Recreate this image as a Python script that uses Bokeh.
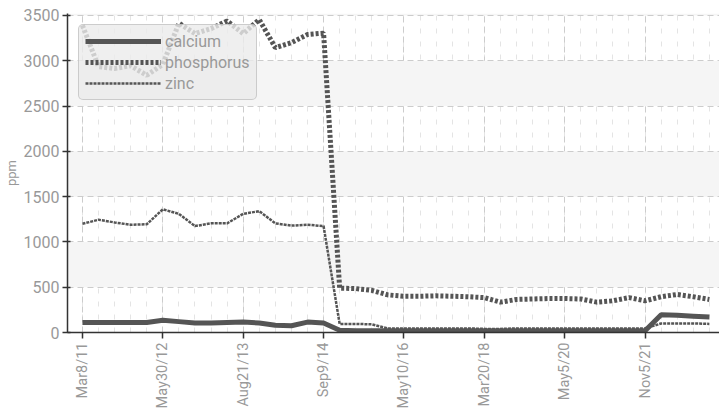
import math
from bokeh.plotting import figure
from bokeh.models import Range1d, FixedTicker, Legend, LegendItem, ColumnDataSource
from bokeh.embed import file_html
from bokeh.resources import INLINE

dates = ["Mar8/11", "", "", "", "", "May30/12", "", "", "", "", "Aug21/13", "", "", "", "",
         "Sep9/14", "", "", "", "", "May10/16", "", "", "", "", "Mar20/18", "", "", "", "",
         "May5/20", "", "", "", "", "Nov5/21", "", "", "", ""]

calcium = [110, 110, 110, 110, 110, 135, 120, 105, 105, 110,
           115, 105, 80, 75, 115, 105, 25, 20, 20, 20,
           20, 20, 20, 20, 20, 20, 20, 20, 20, 20,
           20, 20, 20, 20, 20, 20, 195, 190, 180, 170]
phosphorus = [3390, 2935, 2915, 2945, 2840, 2960, 3415, 3300, 3355, 3440,
              3300, 3455, 3145, 3200, 3290, 3305, 490, 485, 465, 415,
              400, 400, 405, 400, 395, 385, 335, 365, 370, 375,
              375, 370, 335, 350, 385, 350, 395, 420, 395, 365]
zinc = [1200, 1245, 1215, 1190, 1195, 1360, 1310, 1175, 1205, 1205,
        1310, 1340, 1205, 1180, 1190, 1175, 95, 95, 90, 45,
        45, 45, 45, 45, 45, 40, 40, 45, 45, 45,
        45, 45, 45, 45, 45, 45, 100, 100, 100, 95]
y_ticks = [0, 500, 1000, 1500, 2000, 2500, 3000, 3500]

idx = list(range(len(dates)))
src = ColumnDataSource(dict(x=idx, calcium=calcium, phosphorus=phosphorus, zinc=zinc))

FONT = "Roboto"
TXT = "#999999"
LINE = "#555555"

p = figure(width=719, height=415, output_backend="svg", toolbar_location=None,
           x_range=Range1d(-0.93, 39.63), y_range=Range1d(0, 3522),
           min_border_left=66, min_border_right=0, min_border_top=13, min_border_bottom=83)
p.outline_line_color = None
p.background_fill_color = "white"

r1 = p.line("x", "calcium", source=src, line_color=LINE, line_width=5)
r2 = p.line("x", "phosphorus", source=src, line_color=LINE, line_width=5, line_dash="3 2")
r3 = p.line("x", "zinc", source=src, line_color=LINE, line_width=2.5, line_dash="3 1")

# axes
label_idx = [i for i, d in enumerate(dates) if d]
p.xaxis.ticker = FixedTicker(ticks=label_idx, minor_ticks=idx)
p.xaxis.major_label_overrides = {i: dates[i] for i in label_idx}
p.xaxis.major_label_orientation = math.pi / 2
p.xaxis.major_label_text_font = FONT
p.xaxis.major_label_text_font_size = "14.5px"
p.xaxis.major_label_text_color = TXT
p.xaxis.major_label_standoff = 4
p.xaxis.major_tick_in = 0
p.xaxis.major_tick_out = 6
p.xaxis.minor_tick_in = 0
p.xaxis.minor_tick_out = 0
p.xaxis.axis_line_color = "#333333"
p.xaxis.axis_line_width = 1.5
p.xaxis.major_tick_line_color = "#333333"
p.xaxis.major_tick_line_width = 1.5

p.yaxis.ticker = FixedTicker(ticks=y_ticks)
p.yaxis.major_label_text_font = FONT
p.yaxis.major_label_text_font_size = "16px"
p.yaxis.major_label_text_color = TXT
p.yaxis.major_label_standoff = 3
p.yaxis.major_tick_in = 3
p.yaxis.major_tick_out = 5
p.yaxis.minor_tick_line_color = None
p.yaxis.axis_line_color = "#333333"
p.yaxis.axis_line_width = 1.5
p.yaxis.major_tick_line_color = "#333333"
p.yaxis.major_tick_line_width = 1.5
p.yaxis.axis_label = "ppm"
p.yaxis.axis_label_text_font = FONT
p.yaxis.axis_label_text_font_size = "13px"
p.yaxis.axis_label_text_font_style = "normal"
p.yaxis.axis_label_text_color = TXT
p.yaxis.axis_label_standoff = 2

# grids
p.ygrid.grid_line_color = "#cccccc"
p.ygrid.grid_line_dash = "6 4"
p.ygrid.grid_line_width = 1
p.ygrid.band_fill_color = "#f5f5f5"
p.ygrid.band_fill_alpha = 1.0
p.xgrid.grid_line_color = "#cccccc"
p.xgrid.grid_line_dash = "6 4"
p.xgrid.minor_grid_line_color = "#e4e4e4"
p.xgrid.minor_grid_line_dash = "5 8"

legend = Legend(items=[LegendItem(label="calcium", renderers=[r1]),
                       LegendItem(label="phosphorus", renderers=[r2]),
                       LegendItem(label="zinc", renderers=[r3])],
                location="top_left", margin=11, padding=6, spacing=1,
                glyph_width=76, glyph_height=20, label_height=20, label_standoff=4,
                label_text_font=FONT, label_text_font_size="16px", label_text_color=TXT,
                background_fill_color="#ebebeb", background_fill_alpha=0.8,
                border_line_color="#aaaaaa", border_line_width=1)
try:
    legend.border_radius = 5
except Exception:
    pass
p.add_layout(legend)

open("out.html", "w").write(file_html(p, INLINE))
